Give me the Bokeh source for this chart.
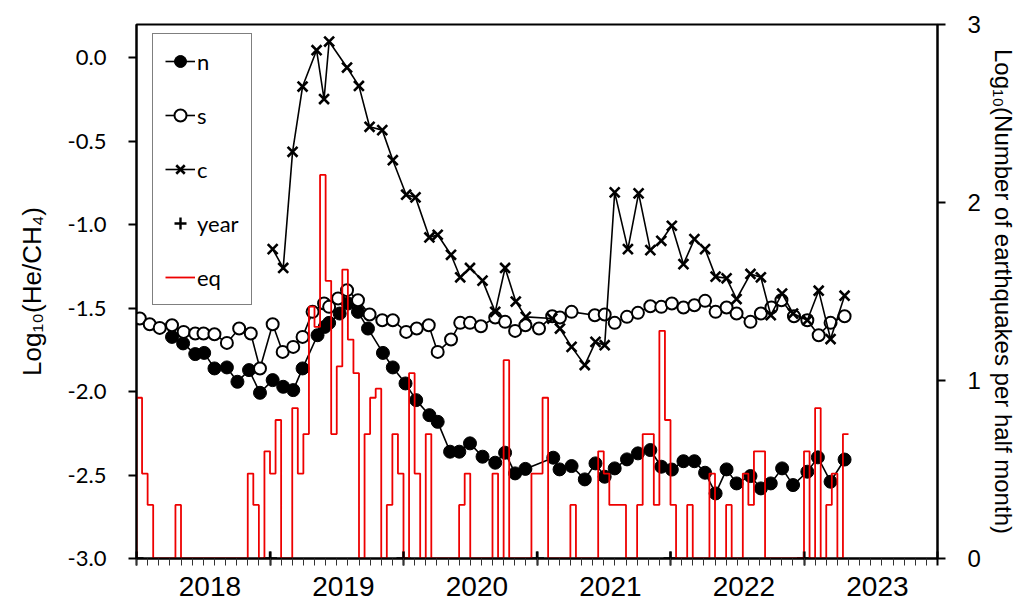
from bokeh.plotting import figure
from bokeh.models import (Range1d, LinearAxis, FixedTicker, PrintfTickFormatter,
                          CustomJSTickFormatter, Legend, LegendItem)
from bokeh.embed import file_html
from bokeh.resources import INLINE

# ---------------- data (decimal years, log10 values) ----------------
n_year = [2018.266, 2018.349, 2018.440, 2018.507, 2018.584, 2018.677, 2018.756, 2018.843,
          2018.925, 2019.020, 2019.099, 2019.174, 2019.244, 2019.356, 2019.410, 2019.443,
          2019.522, 2019.584, 2019.659, 2019.734, 2019.846, 2019.920, 2020.015, 2020.095,
          2020.194, 2020.256, 2020.349, 2020.418, 2020.498, 2020.592, 2020.687, 2020.761,
          2020.836, 2020.913, 2021.122, 2021.169, 2021.259, 2021.358, 2021.438, 2021.507,
          2021.582, 2021.674, 2021.756, 2021.849, 2021.931, 2022.010, 2022.097, 2022.179,
          2022.259, 2022.338, 2022.420, 2022.495, 2022.599, 2022.677, 2022.751, 2022.836,
          2022.918, 2023.025, 2023.104, 2023.199, 2023.304]
n_val = [-1.672, -1.711, -1.775, -1.768, -1.861, -1.855, -1.941, -1.871,
         -2.007, -1.931, -1.971, -1.991, -1.861, -1.662, -1.612, -1.588,
         -1.532, -1.472, -1.522, -1.622, -1.768, -1.855, -1.951, -2.051,
         -2.141, -2.181, -2.360, -2.360, -2.310, -2.390, -2.426, -2.366,
         -2.490, -2.463, -2.396, -2.466, -2.446, -2.526, -2.430, -2.510,
         -2.460, -2.406, -2.370, -2.350, -2.450, -2.467, -2.417, -2.417,
         -2.486, -2.610, -2.466, -2.550, -2.506, -2.580, -2.550, -2.460,
         -2.560, -2.480, -2.394, -2.540, -2.407]

s_year = [2018.025, 2018.099, 2018.174, 2018.266, 2018.353, 2018.440, 2018.502, 2018.584,
          2018.677, 2018.769, 2018.856, 2018.925, 2019.020, 2019.095, 2019.174, 2019.244,
          2019.319, 2019.405, 2019.443, 2019.510, 2019.577, 2019.659, 2019.746, 2019.841,
          2019.920, 2020.020, 2020.099, 2020.189, 2020.256, 2020.356, 2020.425, 2020.498,
          2020.580, 2020.687, 2020.761, 2020.836, 2020.913, 2021.015, 2021.114, 2021.172,
          2021.259, 2021.433, 2021.507, 2021.582, 2021.674, 2021.756, 2021.849, 2021.931,
          2022.010, 2022.097, 2022.179, 2022.259, 2022.338, 2022.420, 2022.495, 2022.599,
          2022.677, 2022.756, 2022.831, 2022.925, 2023.025, 2023.110, 2023.199, 2023.304]
s_val = [-1.562, -1.596, -1.618, -1.602, -1.642, -1.652, -1.652, -1.656,
         -1.708, -1.622, -1.652, -1.861, -1.596, -1.762, -1.732, -1.672,
         -1.522, -1.472, -1.492, -1.442, -1.392, -1.452, -1.538, -1.572,
         -1.572, -1.642, -1.622, -1.602, -1.762, -1.688, -1.588, -1.588,
         -1.608, -1.556, -1.582, -1.636, -1.602, -1.622, -1.548, -1.556,
         -1.522, -1.542, -1.538, -1.588, -1.552, -1.528, -1.488, -1.492,
         -1.472, -1.496, -1.482, -1.456, -1.522, -1.496, -1.532, -1.582,
         -1.532, -1.496, -1.452, -1.548, -1.572, -1.662, -1.588, -1.548]

c_year = [2019.020, 2019.099, 2019.169, 2019.244, 2019.349, 2019.405, 2019.443, 2019.577,
          2019.666, 2019.746, 2019.841, 2019.920, 2020.020, 2020.090, 2020.194, 2020.256,
          2020.356, 2020.425, 2020.498, 2020.592, 2020.687, 2020.761, 2020.841, 2020.916,
          2021.114, 2021.172, 2021.259, 2021.358, 2021.438, 2021.507, 2021.582, 2021.681,
          2021.761, 2021.849, 2021.931, 2022.010, 2022.097, 2022.179, 2022.259, 2022.338,
          2022.420, 2022.495, 2022.599, 2022.677, 2022.751, 2022.836, 2022.918, 2023.025,
          2023.110, 2023.199, 2023.304]
c_val = [-1.146, -1.259, -0.563, -0.172, 0.046, -0.247, 0.098, -0.058,
         -0.168, -0.413, -0.433, -0.613, -0.820, -0.836, -1.076, -1.060,
         -1.180, -1.315, -1.259, -1.335, -1.522, -1.259, -1.460, -1.552,
         -1.562, -1.622, -1.732, -1.841, -1.702, -1.722, -0.806, -1.146,
         -0.812, -1.152, -1.096, -1.006, -1.236, -1.086, -1.146, -1.311,
         -1.321, -1.445, -1.295, -1.315, -1.542, -1.412, -1.532, -1.572,
         -1.395, -1.685, -1.425]

year_marks = [2018, 2019, 2020, 2021, 2022, 2023]
year_level = [-3.0, -3.0, -3.0, -3.0, -3.0, -3.0]
year_labels = ["2018", "2019", "2020", "2021", "2022", "2023"]

# log10(number of earthquakes per half month), half-month bins from 2018-01
eq_start = 2018.0
eq_log = [0.903, 0.477, 0.301, 0, 0, 0, 0, 0.301,
          0, 0, 0, 0, 0, 0, 0, 0,
          0, 0, 0, 0, 0.477, 0.301, 0, 0.602,
          0.477, 0.778, 0, 0, 0.845, 0.477, 0.699, 1.415,
          1.301, 2.155, 1.560, 0.699, 1.079, 1.623, 1.230, 1.041,
          0, 0.699, 0.903, 0.954, 0, 0.301, 0.699, 0.477,
          0, 1.041, 0.477, 0, 0.699, 0, 0, 0,
          0, 0, 0.301, 0.477, 0, 0, 0, 0,
          0.477, 0, 1.114, 0, 0, 0, 0, 0.477,
          0.477, 0.903, 0, 0, 0, 0, 0.301, 0,
          0, 0, 0, 0.602, 0.477, 0.301, 0.301, 0.301,
          0, 0, 0.301, 0.699, 0.699, 0.301, 1.279, 0.778,
          0.301, 0, 0, 0.301, 0, 0, 0, 0.477,
          0, 0, 0.301, 0, 0, 0.477, 0.301, 0.602,
          0.602, 0, 0, 0, 0, 0, 0, 0,
          0.602, 0, 0.845, 0, 0.301, 0.477, 0, 0.699]

# ---------------- figure ----------------
p = figure(width=1019, height=607, output_backend="svg", toolbar_location=None,
           x_range=Range1d(2018, 2024), y_range=Range1d(-3.0, 0.2),
           x_axis_location=None,
           min_border_left=136, min_border_right=80, min_border_top=24, min_border_bottom=49)
p.grid.visible = False
p.outline_line_color = "black"
p.outline_line_width = 2
p.background_fill_color = "white"
p.border_fill_color = "white"

p.extra_y_ranges = {"eq": Range1d(0, 3)}
p.extra_x_ranges = {"lab": Range1d(2018 - 0.55, 2024 - 0.55)}

# left axis
ya = p.yaxis[0]
ya.ticker = FixedTicker(ticks=[-3.0, -2.5, -2.0, -1.5, -1.0, -0.5, 0.0])
ya.formatter = PrintfTickFormatter(format="%.1f")
ya.axis_line_width = 2
ya.axis_line_color = "black"
ya.major_tick_line_width = 2
ya.major_tick_line_color = "black"
ya.major_tick_out = 8
ya.major_tick_in = 0
ya.minor_tick_line_color = None
ya.major_label_text_font = "Lato"
ya.major_label_text_font_size = "22px"
ya.major_label_text_color = "black"
ya.major_label_standoff = 22
ya.axis_label = "Log\u2081\u2080(He/CH\u2084)"
ya.axis_label_text_font = "Liberation Sans"
ya.axis_label_text_font_size = "26px"
ya.axis_label_text_font_style = "normal"
ya.axis_label_text_color = "black"
ya.axis_label_standoff = 18

# right axis
ra = LinearAxis(y_range_name="eq", ticker=FixedTicker(ticks=[0, 1, 2, 3]))
ra.axis_line_width = 2
ra.axis_line_color = "black"
ra.major_tick_line_width = 2
ra.major_tick_out = 8
ra.major_tick_in = 0
ra.minor_tick_line_color = None
ra.major_label_text_font = "Liberation Sans"
ra.major_label_text_font_size = "24px"
ra.major_label_text_color = "black"
ra.major_label_standoff = 22
ra.axis_label = "Log\u2081\u2080(Number of earthquakes per half month)"
ra.axis_label_text_font = "Liberation Sans"
ra.axis_label_text_font_size = "24px"
ra.axis_label_text_font_style = "normal"
ra.axis_label_text_color = "black"
ra.axis_label_standoff = 6
p.add_layout(ra, "right")

# bottom axis with year boundary marks and monthly minor ticks
month_ticks = [2018 + k / 12 for k in range(0, 72)]
xa = LinearAxis(ticker=FixedTicker(ticks=year_marks + [2024], minor_ticks=month_ticks),
                formatter=CustomJSTickFormatter(code="return ''"))
xa.axis_line_width = 2
xa.axis_line_color = "black"
xa.major_tick_line_width = 2
xa.major_tick_line_color = "black"
xa.major_tick_in = 7
xa.major_tick_out = 7
xa.minor_tick_line_color = "#333333"
xa.minor_tick_line_width = 1
xa.minor_tick_in = 0
xa.minor_tick_out = 7
xa.major_label_standoff = 0
xa.major_label_text_font_size = "2px"
p.add_layout(xa, "below")

# year label axis
la = LinearAxis(x_range_name="lab", ticker=FixedTicker(ticks=year_marks),
                major_label_overrides={y: t for y, t in zip(year_marks, year_labels)})
la.axis_line_color = None
la.major_tick_line_color = None
la.minor_tick_line_color = None
la.major_label_text_font = "Liberation Sans"
la.major_label_text_font_size = "28px"
la.major_label_text_color = "black"
la.major_label_standoff = 5
p.add_layout(la, "below")

# ---------------- glyphs ----------------
n_line = p.line(n_year, n_val, line_color="black", line_width=1.6)
n_pts = p.scatter(n_year, n_val, marker="circle", size=13, fill_color="black", line_color="black")

s_line = p.line(s_year, s_val, line_color="black", line_width=1.6)
s_pts = p.scatter(s_year, s_val, marker="circle", size=12, fill_color="white",
                  line_color="black", line_width=2)

c_line = p.line(c_year, c_val, line_color="black", line_width=1.6)
c_pts = p.scatter(c_year, c_val, marker="x", size=14, line_color="black", line_width=2.6)

yr_pts = p.scatter(year_marks, year_level, marker="cross", size=14, line_color="black", line_width=2.4)

eq_x = [eq_start]
eq_y = [0.0]
for i, v in enumerate(eq_log):
    left = eq_start + i / 24.0
    eq_x += [left, left + 1 / 24.0]
    eq_y += [v, v]
eq_line = p.line(eq_x, eq_y, y_range_name="eq", line_color="#ee0000", line_width=1.8)

legend = Legend(items=[
    LegendItem(label="n", renderers=[n_line, n_pts]),
    LegendItem(label="s", renderers=[s_line, s_pts]),
    LegendItem(label="c", renderers=[c_line, c_pts]),
    LegendItem(label="year", renderers=[yr_pts]),
    LegendItem(label="eq", renderers=[eq_line]),
], location=(16, 253))
legend.border_line_color = "black"
legend.border_line_width = 1
legend.background_fill_color = "white"
legend.background_fill_alpha = 1.0
legend.label_text_font = "Lato"
legend.label_text_font_size = "22px"
legend.label_text_color = "black"
legend.glyph_width = 30
legend.glyph_height = 30
legend.label_height = 30
legend.spacing = 24
legend.padding = 12
legend.margin = 0
legend.label_standoff = 2
p.add_layout(legend, "center")

open("out.html", "w").write(file_html(p, INLINE))
